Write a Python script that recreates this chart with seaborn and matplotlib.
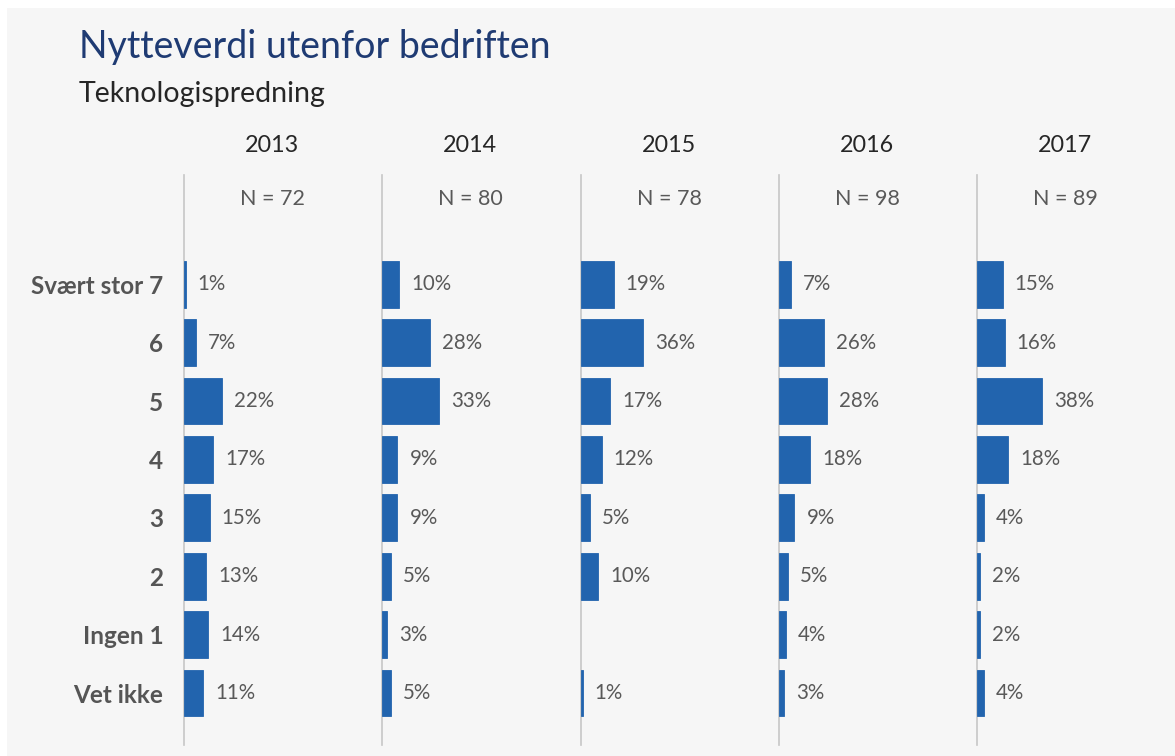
import matplotlib
matplotlib.use("Agg")
import matplotlib.pyplot as plt
from matplotlib.patches import Rectangle
import numpy as np
import pandas as pd
import seaborn as sns

# Survey answers per year (percent of respondents)
categories = ["Svært stor 7", "6", "5", "4", "3", "2", "Ingen 1", "Vet ikke"]
years = ["2013", "2014", "2015", "2016", "2017"]
n_counts = [72, 80, 78, 98, 89]
values_2013 = [1, 7, 22, 17, 15, 13, 14, 11]
values_2014 = [10, 28, 33, 9, 9, 5, 3, 5]
values_2015 = [19, 36, 17, 12, 5, 10, np.nan, 1]
values_2016 = [7, 26, 28, 18, 9, 5, 4, 3]
values_2017 = [15, 16, 38, 18, 4, 2, 2, 4]
series = [values_2013, values_2014, values_2015, values_2016, values_2017]

BAR = "#2264ae"
TEXT = "#595959"
TITLE = "#1f3b73"
BG = "#f6f6f6"
FONT = "Lato"

sns.set_theme(style="white")
plt.rcParams["font.family"] = [FONT, "DejaVu Sans"]

W, H = 1175, 756
fig = plt.figure(figsize=(W / 100, H / 100), dpi=100, facecolor="white")
fig.patches.append(Rectangle((7 / W, 0), 1 - 7 / W, 1 - 8 / H,
                             transform=fig.transFigure, facecolor=BG,
                             edgecolor="none", zorder=-10))

fig.text(79 / W, 1 - 47 / H, "Nytteverdi utenfor bedriften", color=TITLE,
         fontsize=27, va="center", ha="left")
fig.text(79 / W, 1 - 94 / H, "Teknologispredning", color="#262626",
         fontsize=20.5, va="center", ha="left")

col_left = [184, 382, 581, 779, 977]
col_w = 176
px_per_pct = 1.72
ax_top, ax_bottom = 175, 745

for i, (year, vals, n) in enumerate(zip(years, series, n_counts)):
    ax = fig.add_axes([col_left[i] / W, (H - ax_bottom) / H,
                       col_w / W, (ax_bottom - ax_top) / H])
    ax.set_facecolor("none")
    df = pd.DataFrame({"kategori": categories, "andel": vals})
    sns.barplot(data=df, x="andel", y="kategori", order=categories,
                orient="h", color=BAR, width=0.8, saturation=1,
                edgecolor=BAR, linewidth=0.6, ax=ax, zorder=3)
    ax.set_xlim(0, col_w / px_per_pct)
    ax.set_ylim(7.89, -1.87)
    ax.set_xlabel("")
    ax.set_ylabel("")
    ax.set_xticks([])
    for s in ["top", "right", "bottom"]:
        ax.spines[s].set_visible(False)
    ax.spines["left"].set_color("#c6c6c6")
    ax.spines["left"].set_linewidth(1.2)
    if i == 0:
        ax.tick_params(axis="y", length=0, pad=15)
        for lab in ax.get_yticklabels():
            lab.set_fontweight("bold")
            lab.set_color("#555555")
            lab.set_fontsize(17.5)
    else:
        ax.set_yticks([])

    for j, v in enumerate(vals):
        if np.isnan(v):
            continue
        ax.annotate(f"{v:.0f}%", xy=(v, j), xytext=(12, 0),
                    textcoords="offset pixels", va="center", ha="left",
                    color=TEXT, fontsize=14.8)

    ax.text(0.5, (ax_bottom - 146) / (ax_bottom - ax_top), year,
            transform=ax.transAxes, ha="center", va="center",
            fontsize=16.8, color="#262626")
    ax.text(0.5, (ax_bottom - 199) / (ax_bottom - ax_top), f"N = {n}",
            transform=ax.transAxes, ha="center", va="center",
            fontsize=15.5, color=TEXT)

fig.savefig("out.png", dpi=100, facecolor="white")
